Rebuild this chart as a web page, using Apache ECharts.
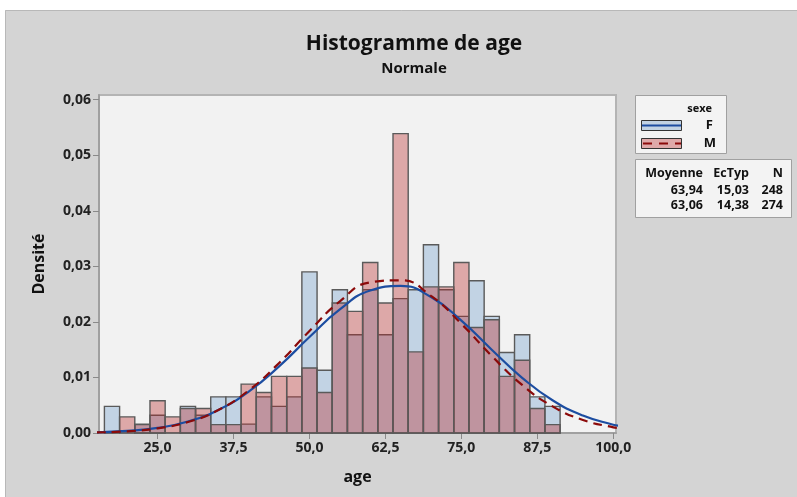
<!DOCTYPE html>
<html>
<head>
<meta charset="utf-8">
<script src="https://cdn.jsdelivr.net/npm/echarts@6/dist/echarts.min.js"></script>
<style>
  html, body { margin: 0; padding: 0; background: #fff; }
  #chart { width: 797px; height: 497px; }
</style>
</head>
<body>
<div id="chart"></div>
<script>
// histogramme de l'age par sexe (densité), classes de 2,5 ans
const binCenters = [17.5, 20, 22.5, 25, 27.5, 30, 32.5, 35, 37.5, 40, 42.5, 45, 47.5, 50, 52.5,
  55, 57.5, 60, 62.5, 65, 67.5, 70, 72.5, 75, 77.5, 80, 82.5, 85, 87.5, 90];
const densF = [0.0048, 0, 0.0016, 0.0032, 0, 0.0048, 0.0032, 0.0065, 0.0065, 0.0016, 0.0065, 0.0048, 0.0065, 0.0290, 0.0113,
  0.0258, 0.0177, 0.0258, 0.0177, 0.0242, 0.0258, 0.0339, 0.0258, 0.0210, 0.0274, 0.0210, 0.0145, 0.0177, 0.0065, 0.0048];
const densM = [0, 0.0029, 0.0015, 0.0058, 0.0029, 0.0044, 0.0044, 0.0015, 0.0015, 0.0088, 0.0073, 0.0102, 0.0102, 0.0117, 0.0073,
  0.0234, 0.0219, 0.0307, 0.0234, 0.0539, 0.0146, 0.0263, 0.0263, 0.0307, 0.0190, 0.0204, 0.0102, 0.0131, 0.0044, 0.0015];
const binWidth = 2.5;

// courbes normales
const curveX = [15, 20, 25, 30, 35, 40, 45, 50, 55, 60, 65, 70, 75, 80, 85, 90, 95, 100, 101];
const curveF = [0.00013, 0.00037, 0.00092, 0.00208, 0.00416, 0.00746, 0.0120, 0.01727, 0.02224, 0.02564,
  0.02647, 0.02447, 0.02024, 0.0150, 0.00994, 0.0059, 0.00314, 0.00149, 0.0013];
const curveM = [0.0001, 0.00031, 0.00084, 0.00197, 0.00413, 0.00767, 0.01261, 0.01837, 0.02371, 0.02712,
  0.02749, 0.02469, 0.01965, 0.01386, 0.00866, 0.0048, 0.00235, 0.00102, 0.0009];

const xTicks = [25, 37.5, 50, 62.5, 75, 87.5, 100];
const yTicks = [0, 0.01, 0.02, 0.03, 0.04, 0.05, 0.06];

// table du legende
const statHeader = ['Moyenne', 'EcTyp', 'N'];
const statRows = [['63,94', '15,03', '248'], ['63,06', '14,38', '274']];

const FONT = '"Open Sans", "Noto Sans", sans-serif';
const BLUE_FILL = '#C2D3E4';
const PINK_FILL = 'rgba(186,36,36,0.355)';
const BAR_STROKE = '#5a5a5a';

const chart = echarts.init(document.getElementById('chart'));

function barRenderer(fill) {
  return function (params, api) {
    const x = api.value(0), h = api.value(1);
    if (!h) return null;
    const p0 = api.coord([x - binWidth / 2, h]);
    const p1 = api.coord([x + binWidth / 2, 0]);
    return {
      type: 'rect',
      shape: { x: p0[0], y: p0[1], width: p1[0] - p0[0], height: p1[1] - p0[1] },
      style: { fill: fill, stroke: BAR_STROKE, lineWidth: 1.4 }
    };
  };
}

const comma = (v, d) => v.toFixed(d).replace('.', ',');

// legende + statistiques (dessinees a la main comme dans Minitab)
const legendGraphics = [
  { type: 'rect', left: 0, top: 0, shape: { x: 0, y: 0, width: 797, height: 10 }, style: { fill: '#fff' } },
  { type: 'rect', left: 0, top: 0, shape: { x: 0, y: 0, width: 5, height: 497 }, style: { fill: '#fff' } },
  { type: 'polyline', shape: { points: [[5.5, 497], [5.5, 10.5], [797, 10.5]] }, style: { stroke: '#b8b8b8', lineWidth: 1, fill: null } },

  { type: 'rect', shape: { x: 635.5, y: 95.5, width: 91, height: 58 }, style: { fill: '#f3f3f3', stroke: '#a0a0a0', lineWidth: 1 } },
  { type: 'text', x: 712, y: 109, style: { text: 'sexe', font: 'bold 11px ' + FONT, fill: '#111', align: 'right', verticalAlign: 'middle' } },
  { type: 'rect', shape: { x: 641.5, y: 120.5, width: 40, height: 10 }, style: { fill: BLUE_FILL, stroke: '#333', lineWidth: 1 } },
  { type: 'line', shape: { x1: 642, y1: 125.5, x2: 681, y2: 125.5 }, style: { stroke: '#1c4da1', lineWidth: 2 } },
  { type: 'text', x: 713, y: 125, style: { text: 'F', font: 'bold 13px ' + FONT, fill: '#111', align: 'right', verticalAlign: 'middle' } },
  { type: 'rect', shape: { x: 641.5, y: 138.5, width: 40, height: 10 }, style: { fill: '#DEA9A9', stroke: '#333', lineWidth: 1 } },
  { type: 'line', shape: { x1: 643, y1: 143.5, x2: 681, y2: 143.5 }, style: { stroke: '#8b0a0a', lineWidth: 2, lineDash: [9, 7] } },
  { type: 'text', x: 716, y: 143, style: { text: 'M', font: 'bold 13px ' + FONT, fill: '#111', align: 'right', verticalAlign: 'middle' } },

  { type: 'rect', shape: { x: 635.5, y: 159.5, width: 156, height: 58 }, style: { fill: '#f3f3f3', stroke: '#a0a0a0', lineWidth: 1 } }
];
const colRight = [703, 749, 783];
const rowY = [173, 190, 205];
statHeader.forEach((t, i) => legendGraphics.push({
  type: 'text', x: colRight[i], y: rowY[0],
  style: { text: t, font: 'bold 12.5px ' + FONT, fill: '#111', align: 'right', verticalAlign: 'middle' }
}));
statRows.forEach((row, r) => row.forEach((t, i) => legendGraphics.push({
  type: 'text', x: colRight[i], y: rowY[r + 1],
  style: { text: t, font: 'bold 12.5px ' + FONT, fill: '#111', align: 'right', verticalAlign: 'middle' }
})));

const option = {
  backgroundColor: '#D4D4D4',
  animation: false,
  textStyle: { fontFamily: FONT },
  title: {
    text: 'Histogramme de age',
    subtext: 'Normale',
    left: 409,
    textAlign: 'center',
    top: 29,
    itemGap: 6,
    textStyle: { fontSize: 21, fontWeight: 'bold', color: '#111', fontFamily: FONT },
    subtextStyle: { fontSize: 15, fontWeight: 'bold', color: '#111', fontFamily: FONT }
  },
  grid: {
    left: 99, top: 95, width: 517, height: 338,
    show: true,
    backgroundColor: '#F2F2F2',
    borderColor: '#b4b4b4',
    borderWidth: 2
  },
  xAxis: {
    type: 'value',
    min: 15.36,
    max: 100.45,
    name: 'age',
    nameLocation: 'middle',
    nameGap: 36,
    nameTextStyle: { fontSize: 16, fontWeight: 'bold', color: '#111' },
    axisLine: { show: true, lineStyle: { color: '#a0a0a0', width: 2 } },
    axisTick: { show: true, customValues: xTicks, length: 6, lineStyle: { color: '#8a8a8a' } },
    axisLabel: {
      customValues: xTicks,
      formatter: v => comma(v, 1),
      fontSize: 14, fontWeight: 'bold', color: '#222', margin: 8
    },
    splitLine: { show: false }
  },
  yAxis: {
    type: 'value',
    min: 0,
    max: 0.06085,
    name: 'Densité',
    nameLocation: 'middle',
    nameGap: 52,
    nameTextStyle: { fontSize: 16, fontWeight: 'bold', color: '#111' },
    axisLine: { show: true, lineStyle: { color: '#a0a0a0', width: 2 } },
    axisTick: { show: true, customValues: yTicks, length: 6, lineStyle: { color: '#8a8a8a' } },
    axisLabel: {
      customValues: yTicks,
      formatter: v => comma(v, 2),
      fontSize: 14, fontWeight: 'bold', color: '#222', margin: 8
    },
    splitLine: { show: false }
  },
  graphic: legendGraphics,
  series: [
    {
      name: 'F',
      type: 'custom',
      renderItem: barRenderer(BLUE_FILL),
      encode: { x: 0, y: 1 },
      data: binCenters.map((c, i) => [c, densF[i]]),
      z: 2
    },
    {
      name: 'M',
      type: 'custom',
      renderItem: barRenderer(PINK_FILL),
      encode: { x: 0, y: 1 },
      data: binCenters.map((c, i) => [c, densM[i]]),
      z: 3
    },
    {
      name: 'F normale',
      type: 'line',
      smooth: true,
      showSymbol: false,
      data: curveX.map((x, i) => [x, curveF[i]]),
      lineStyle: { color: '#1c4da1', width: 2.2 },
      z: 4
    },
    {
      name: 'M normale',
      type: 'line',
      smooth: true,
      showSymbol: false,
      data: curveX.map((x, i) => [x, curveM[i]]),
      lineStyle: { color: '#8b0a0a', width: 2.2, type: [9, 6] },
      z: 5
    }
  ]
};

chart.setOption(option);
window.addEventListener('resize', () => chart.resize());
</script>
</body>
</html>
